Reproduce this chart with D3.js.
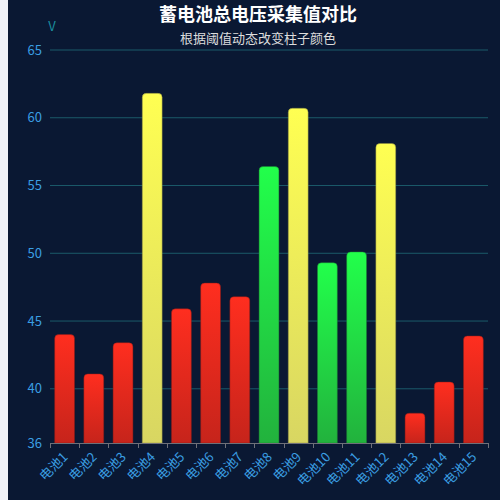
<!DOCTYPE html>
<html>
<head>
<meta charset="utf-8">
<script src="https://cdn.jsdelivr.net/npm/d3@7"></script>
<style>
html, body { margin: 0; padding: 0; background: #f0f2f8; }
#chart { position: absolute; left: 8px; top: 0; width: 492px; height: 500px; background: #0a1833; }
text { font-family: "Noto Sans CJK SC", "Noto Sans", sans-serif; }
</style>
</head>
<body>
<div id="chart"></div>
<script>
const categories = ['电池1','电池2','电池3','电池4','电池5','电池6','电池7','电池8','电池9','电池10','电池11','电池12','电池13','电池14','电池15'];
const voltages = [44.0, 41.1, 43.4, 61.8, 45.9, 47.8, 46.8, 56.4, 60.7, 49.3, 50.1, 58.1, 38.2, 40.5, 43.9];
const yTicks = [36, 40, 45, 50, 55, 60, 65];
const thresholds = [48, 57];

const width = 492, height = 500;
const margin = {top: 50, right: 12, bottom: 57, left: 42};

// CHART INIT ----------------------------------------

const svg = d3.select('#chart').append('svg')
	.attr('width', width)
	.attr('height', height);

const defs = svg.append('defs');
const grads = {
	red: ['#ff2e1f', '#c6241b'],
	green: ['#22ff4b', '#22b23d'],
	yellow: ['#ffff52', '#d8d662']
};
Object.keys(grads).forEach(k => {
	const g = defs.append('linearGradient')
		.attr('id', 'g-' + k)
		.attr('x1', 0).attr('y1', 0).attr('x2', 0).attr('y2', 1);
	g.append('stop').attr('offset', '0%').attr('stop-color', grads[k][0]);
	g.append('stop').attr('offset', '100%').attr('stop-color', grads[k][1]);
});

const xScale = d3.scaleBand()
	.domain(categories)
	.range([margin.left, width - margin.right]);

const yScale = d3.scaleLinear()
	.domain([36, 65])
	.range([height - margin.bottom, margin.top]);

// grid
svg.append('g')
	.selectAll('line')
	.data(yTicks.filter(t => t !== 36))
	.join('line')
	.attr('x1', margin.left)
	.attr('x2', width - margin.right)
	.attr('y1', d => yScale(d))
	.attr('y2', d => yScale(d))
	.attr('stroke', '#1b5a6a')
	.attr('stroke-width', 1);

// y labels
svg.append('g')
	.selectAll('text')
	.data(yTicks)
	.join('text')
	.attr('x', margin.left - 8)
	.attr('y', d => yScale(d))
	.attr('dy', '0.35em')
	.attr('text-anchor', 'end')
	.attr('fill', '#3a9ee2')
	.attr('font-size', 13)
	.text(d => d);

svg.append('text')
	.attr('x', 44)
	.attr('y', 31)
	.attr('text-anchor', 'middle')
	.attr('fill', '#1a8d9e')
	.attr('font-size', 13)
	.text('V');

// bars
function colorOf(v) {
	if (v < thresholds[0]) return 'red';
	if (v < thresholds[1]) return 'green';
	return 'yellow';
}

const barW = xScale.bandwidth() * 0.68;
const r = 4;
const base = yScale(36);

svg.append('g')
	.selectAll('path')
	.data(voltages)
	.join('path')
	.attr('d', (d, i) => {
		const x0 = xScale(categories[i]) + (xScale.bandwidth() - barW) / 2;
		const x1 = x0 + barW;
		const y0 = yScale(d);
		return `M${x0},${base}V${y0 + r}Q${x0},${y0} ${x0 + r},${y0}H${x1 - r}Q${x1},${y0} ${x1},${y0 + r}V${base}Z`;
	})
	.attr('fill', d => `url(#g-${colorOf(d)})`)
	.attr('stroke', d => ({red: '#8a1c18', green: '#1e7a33', yellow: '#8c8a40'})[colorOf(d)])
	.attr('stroke-opacity', 0.6)
	.attr('stroke-width', 0.8);

// x axis
const xAxisG = svg.append('g');
xAxisG.append('line')
	.attr('x1', margin.left)
	.attr('x2', width - margin.right)
	.attr('y1', base + 0.5)
	.attr('y2', base + 0.5)
	.attr('stroke', '#6e7079');

const bounds = categories.map(c => xScale(c)).concat([width - margin.right]);
xAxisG.selectAll('.tick')
	.data(bounds)
	.join('line')
	.attr('x1', d => Math.round(d) + 0.5)
	.attr('x2', d => Math.round(d) + 0.5)
	.attr('y1', base)
	.attr('y2', base + 5)
	.attr('stroke', '#6e7079');

xAxisG.selectAll('text')
	.data(categories)
	.join('text')
	.attr('transform', d => `translate(${xScale(d) + xScale.bandwidth() / 2 - 3},${base + 8}) rotate(-45)`)
	.attr('text-anchor', 'end')
	.attr('dy', '0.75em')
	.attr('fill', '#3a9ee2')
	.attr('font-size', 13)
	.text(d => d);

// titles
svg.append('text')
	.attr('x', 250)
	.attr('y', 21)
	.attr('text-anchor', 'middle')
	.attr('fill', '#ffffff')
	.attr('font-size', 18)
	.attr('font-weight', 'bold')
	.text('蓄电池总电压采集值对比');

svg.append('text')
	.attr('x', 250)
	.attr('y', 43)
	.attr('text-anchor', 'middle')
	.attr('fill', '#dddddd')
	.attr('font-size', 13)
	.text('根据阈值动态改变柱子颜色');
</script>
</body>
</html>
